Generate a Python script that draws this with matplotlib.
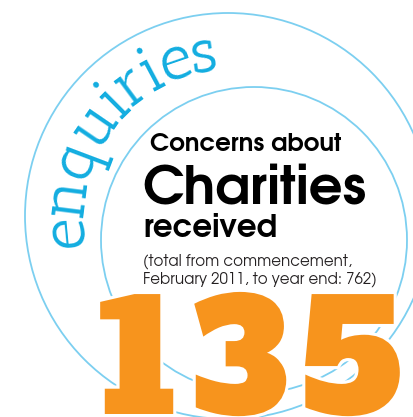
import numpy as np
import matplotlib
matplotlib.use("Agg")
import matplotlib.pyplot as plt
from matplotlib.patches import Circle
import matplotlib.patheffects as pe

# ---- content ----
arc_word = "enquiries"
head_small = "Concerns about"
head_big = "Charities"
head_mid = "received"
note_lines = ["(total from commencement,", "February 2011, to year end: 762)"]
year_value = 135

# ---- style ----
W, H = 414, 417
CIRCLE_COL = "#7ccff0"
ARC_COL = "#12ade0"
ORANGE = "#f7941d"
HEAD_FONT = "TeX Gyre Adventor"
ARC_FONT = "Antic Slab"
pt = 0.72  # px -> pt at 100 dpi

fig = plt.figure(figsize=(W / 100, H / 100), dpi=100)
ax = fig.add_axes([0, 0, 1, 1])
ax.set_xlim(0, W)
ax.set_ylim(H, 0)
ax.set_aspect("equal")
ax.axis("off")
renderer = fig.canvas.get_renderer()

# circles
ax.add_patch(Circle((228, 216), 203, fill=False, ec=CIRCLE_COL, lw=1.3, zorder=1))
ax.add_patch(Circle((254, 240), 153, fill=False, ec=CIRCLE_COL, lw=1.3, zorder=1))

# curved word
cx, cy, rb = 228, 216, 146
th0, th1 = np.deg2rad(191), np.deg2rad(94)
fs_arc = 46
widths = []
for ch in arc_word:
    t = ax.text(0, 0, ch, family=ARC_FONT, fontsize=fs_arc)
    widths.append(t.get_window_extent(renderer).width)
    t.remove()
widths = np.array(widths)
cum = np.cumsum(widths) - widths / 2
tot = widths.sum()
for ch, s in zip(arc_word, cum):
    th = th0 - (s / tot) * (th0 - th1)
    x = cx + rb * np.cos(th)
    y = cy - rb * np.sin(th)
    ax.text(x, y, ch, family=ARC_FONT, fontsize=fs_arc, color=ARC_COL,
            rotation=np.rad2deg(th) - 90, rotation_mode="anchor",
            ha="center", va="baseline", zorder=3)

# headings
ax.text(150, 151, head_small, family=HEAD_FONT, fontweight="bold", fontsize=24.5 * pt,
        color="black", va="baseline", ha="left", zorder=3)
ax.text(142, 203, head_big, family=HEAD_FONT, fontweight="bold", fontsize=53 * pt,
        color="black", va="baseline", ha="left", zorder=3)
ax.text(143, 237, head_mid, family=HEAD_FONT, fontweight="bold", fontsize=31 * pt,
        color="black", va="baseline", ha="left", zorder=3)
for ln, yb in zip(note_lines, [265, 283]):
    ax.text(143, yb, ln, family=HEAD_FONT, fontsize=15.0 * pt, color="#231f20",
            va="baseline", ha="left", zorder=3)

# big number, spread between x=100 and x=400
digits = str(year_value)
fs_num = 111
stroke = [pe.withStroke(linewidth=4.5, foreground="white")]
dw = []
for ch in digits:
    t = ax.text(0, 0, ch, family="Alfa Slab One", fontsize=fs_num)
    dw.append(t.get_window_extent(renderer).width)
    t.remove()
dw = np.array(dw)
x_left, x_right = 98, 402
gap = (x_right - x_left - dw.sum()) / (len(digits) - 1)
x = x_left
for ch, w in zip(digits, dw):
    ax.text(x, 414, ch, family="Alfa Slab One", fontsize=fs_num, color=ORANGE,
            ha="left", va="baseline", path_effects=stroke, zorder=4)
    x += w + gap

fig.savefig("out.png", dpi=100)
